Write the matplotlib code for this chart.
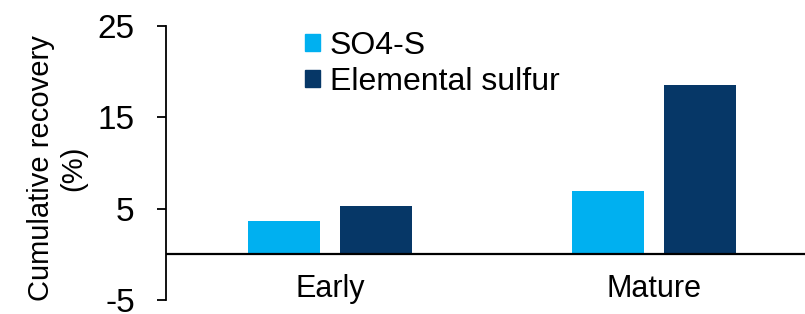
import matplotlib
matplotlib.use('Agg')
import matplotlib.pyplot as plt
from matplotlib.patches import Patch
import numpy as np

plt.rcParams['font.family'] = ['Liberation Sans', 'DejaVu Sans']
plt.rcParams['axes.unicode_minus'] = False

# data
stages = ['Early', 'Mature']
series = ['SO4-S', 'Elemental sulfur']
so4_s = [3.7, 6.9]
elemental = [5.3, 18.5]
colors = ['#00B0F0', '#063767']

W, H = 805, 314
fig = plt.figure(figsize=(W / 100, H / 100), dpi=100)

# axes area in pixels: y axis at x=166, 25 at y=26, -5 at y=300
left, top, bottom = 166, 26, 300
cat_w = 324
ax = fig.add_axes([left / W, (H - bottom) / H, 2 * cat_w / W, (bottom - top) / H])

x = np.arange(len(stages))
bw = 0.222
off = 0.142
ax.bar(x - off, so4_s, bw, color=colors[0], zorder=2)
ax.bar(x + off, elemental, bw, color=colors[1], zorder=2)

ax.set_xlim(-(330 - left) / cat_w, 2 - (330 - left) / cat_w)
ax.set_ylim(-5, 25)
ax.set_yticks([-5, 5, 15, 25])
ax.tick_params(axis='y', direction='out', length=6.5, width=1.3, labelsize=24, pad=16)
ax.set_xticks([])

for s in ['top', 'right', 'bottom']:
    ax.spines[s].set_visible(False)
ax.spines['left'].set_linewidth(1.3)
ax.axhline(0, color='black', lw=1.6, zorder=3)

# category labels sit just above the -5 line
for xi, name in zip(x, stages):
    ax.text(xi, -4.7, name, ha='center', va='baseline', fontsize=22)

fig.text(57 / W, 1 - 168 / H, 'Cumulative recovery\n(%)', rotation=90,
         ha='center', va='center', multialignment='center', fontsize=21)

handles = [Patch(color=c) for c in colors]
fig.legend(handles, series, loc='upper left', bbox_to_anchor=(305 / W, 1 - 31 / H),
           frameon=False, fontsize=23, handlelength=0.47, handleheight=0.47,
           handletextpad=0.31, labelspacing=0.18, borderpad=0, borderaxespad=0)

fig.savefig('out.png', dpi=100)
